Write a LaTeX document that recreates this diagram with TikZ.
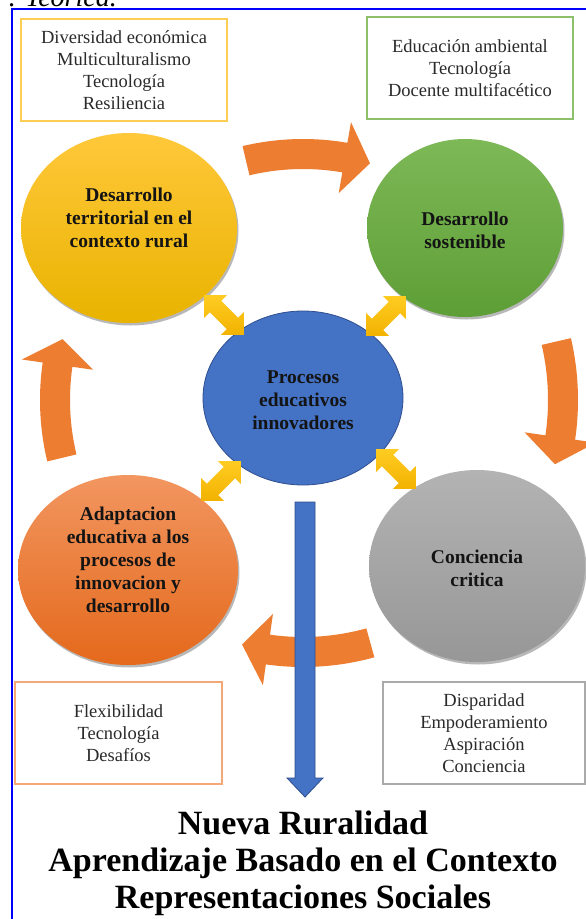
\documentclass[tikz,border=0pt]{standalone}
\usepackage{fontspec}
\setmainfont{Liberation Serif}
\usetikzlibrary{shapes.geometric,shadows,calc}
\definecolor{frameblue}{HTML}{0000FF}
\definecolor{cycor}{HTML}{ED7D31}
\definecolor{boxyel}{HTML}{FFCC55}
\definecolor{boxgrn}{HTML}{8CC06A}
\definecolor{boxor}{HTML}{F4A878}
\definecolor{boxgry}{HTML}{AAAAAA}
\definecolor{txtgry}{HTML}{2A2A2A}
\definecolor{bluefill}{HTML}{4472C4}
\definecolor{blueline}{HTML}{2F4F8F}
\definecolor{dblA}{HTML}{FFCC22}
\definecolor{dblB}{HTML}{F2B200}
\definecolor{yelA}{HTML}{FFC83A}
\definecolor{yelB}{HTML}{E9B300}
\definecolor{grnA}{HTML}{7DB957}
\definecolor{grnB}{HTML}{5E9E36}
\definecolor{orgA}{HTML}{F29660}
\definecolor{orgB}{HTML}{E4691C}
\definecolor{gryA}{HTML}{B3B3B3}
\definecolor{gryB}{HTML}{979797}
\newcommand\cycarrow[3]{%
  \pgfmathsetmacro\caB{#2-6}%
  \pgfmathsetmacro\caO{#3+15}%
  \pgfmathsetmacro\caI{#3-15}%
  \pgfmathsetmacro\caHO{#3+36}%
  \pgfmathsetmacro\caHI{#3-36}%
  \fill[cycor] plot[domain=#1:\caB,samples=30] (\x:\caO) -- (\caB:\caHO) -- (#2:#3) -- (\caB:\caHI) -- plot[domain=\caB:#1,samples=30] (\x:\caI) -- cycle;
}
\newcommand\dblarr[2]{%
  \shade[top color=dblA,bottom color=dblB,shift={(#1)},rotate=#2]
    (-28,0) -- (-12,-16) -- (-12,-8) -- (12,-8) -- (12,-16) -- (28,0) -- (12,16) -- (12,8) -- (-12,8) -- (-12,16) -- cycle;
}
\begin{document}
\begin{tikzpicture}[x=1pt,y=-1pt,
  infobox/.style={draw, line width=1.4pt, fill=white, text=txtgry, align=center,
    inner sep=0pt, font=\fontsize{18.5}{22}\selectfont},
  bubble/.style={ellipse, inner sep=0pt, draw=none,
    drop shadow={shadow xshift=1.5pt, shadow yshift=-2.5pt, opacity=0.28, fill=black}},
  bubtext/.style={align=center, inner sep=0pt, text=black!92,
    font=\fontsize{19.5}{23}\selectfont\bfseries},
  titletext/.style={anchor=base, inner sep=0pt, font=\fontsize{34}{37}\selectfont\bfseries},
]
\useasboundingbox (0,0) rectangle (586,919);
\fill[white] (0,0) rectangle (586,919);

% cropped caption remnant
\node[anchor=base east, inner sep=0pt, font=\fontsize{28}{30}\selectfont\itshape] (cap) at (117,6) {. Teórica.};

% frame
\draw[frameblue, line width=1.5pt] (12,930) -- (12,9) -- (600,9);

% info boxes
\node[infobox, draw=boxyel, minimum width=206pt, minimum height=102pt] (b1) at (124,70)
  {Diversidad económica\\Multiculturalismo\\Tecnología\\Resiliencia};
\node[infobox, draw=boxgrn, minimum width=206pt, minimum height=102pt] (b2) at (470,68)
  {Educación ambiental\\Tecnología\\Docente multifacético};
\node[infobox, draw=boxor, minimum width=207pt, minimum height=102pt] (b3) at (118.5,733)
  {Flexibilidad\\Tecnología\\Desafíos};
\node[infobox, draw=boxgry, minimum width=202pt, minimum height=102pt] (b4) at (484,733)
  {Disparidad\\Empoderamiento\\Aspiración\\Conciencia};

% cycle arrows
\coordinate (cc) at (303,400);
\begin{scope}[shift={(cc)}]
  \cycarrow{-103.4}{-74.2}{246}
  \cycarrow{-13}{14.3}{260}
  \cycarrow{74.5}{104}{252}
  \cycarrow{166.5}{194.2}{248}
\end{scope}

% bubbles
\node[bubble, top color=yelA, bottom color=yelB,
  minimum width=216pt, minimum height=190pt] (yel) at (129,228) {};
\node[bubble, top color=grnA, bottom color=grnB,
  minimum width=196pt, minimum height=178pt] (grn) at (465,228) {};
\node[ellipse, inner sep=0pt, fill=bluefill, draw=blueline, line width=0.8pt,
  minimum width=200pt, minimum height=174pt] (blu) at (303,398) {};
\node[bubble, top color=orgA, bottom color=orgB,
  minimum width=220pt, minimum height=190pt] (org) at (128,570) {};
\node[bubble, top color=gryA, bottom color=gryB,
  minimum width=216pt, minimum height=192pt] (gry) at (477,566) {};

% double arrows
\dblarr{224,315}{-45}
\dblarr{386,316}{45}
\dblarr{221,481}{45}
\dblarr{396,469}{-45}

% blue down arrow
\coordinate (ds) at (305,502);
\coordinate (de) at (305,797);
\fill[bluefill, draw=blueline, line width=0.8pt]
  ($(ds)+(-10,0)$) -- ($(ds)+(10,0)$) -- ($(de)+(10,-19)$) -- ($(de)+(18,-19)$) -- (de)
  -- ($(de)+(-18,-19)$) -- ($(de)+(-10,-19)$) -- cycle;

% bubble texts
\node[bubtext] (yelt) at (129,218) {Desarrollo\\territorial en el\\contexto rural};
\node[bubtext] (grnt) at (465,230.5) {Desarrollo\\sostenible};
\node[bubtext] (blut) at (303,400) {Procesos\\educativos\\innovadores};
\node[bubtext] (orgt) at (128,560) {Adaptacion\\educativa a los\\procesos de\\innovacion y\\desarrollo};
\node[bubtext] (gryt) at (477,568.5) {Conciencia\\critica};

% title
\node[titletext] (t1) at (303,834) {Nueva Ruralidad};
\node[titletext] (t2) at (303,871) {Aprendizaje Basado en el Contexto};
\node[titletext] (t3) at (303,908) {Representaciones Sociales};
\end{tikzpicture}
\end{document}
